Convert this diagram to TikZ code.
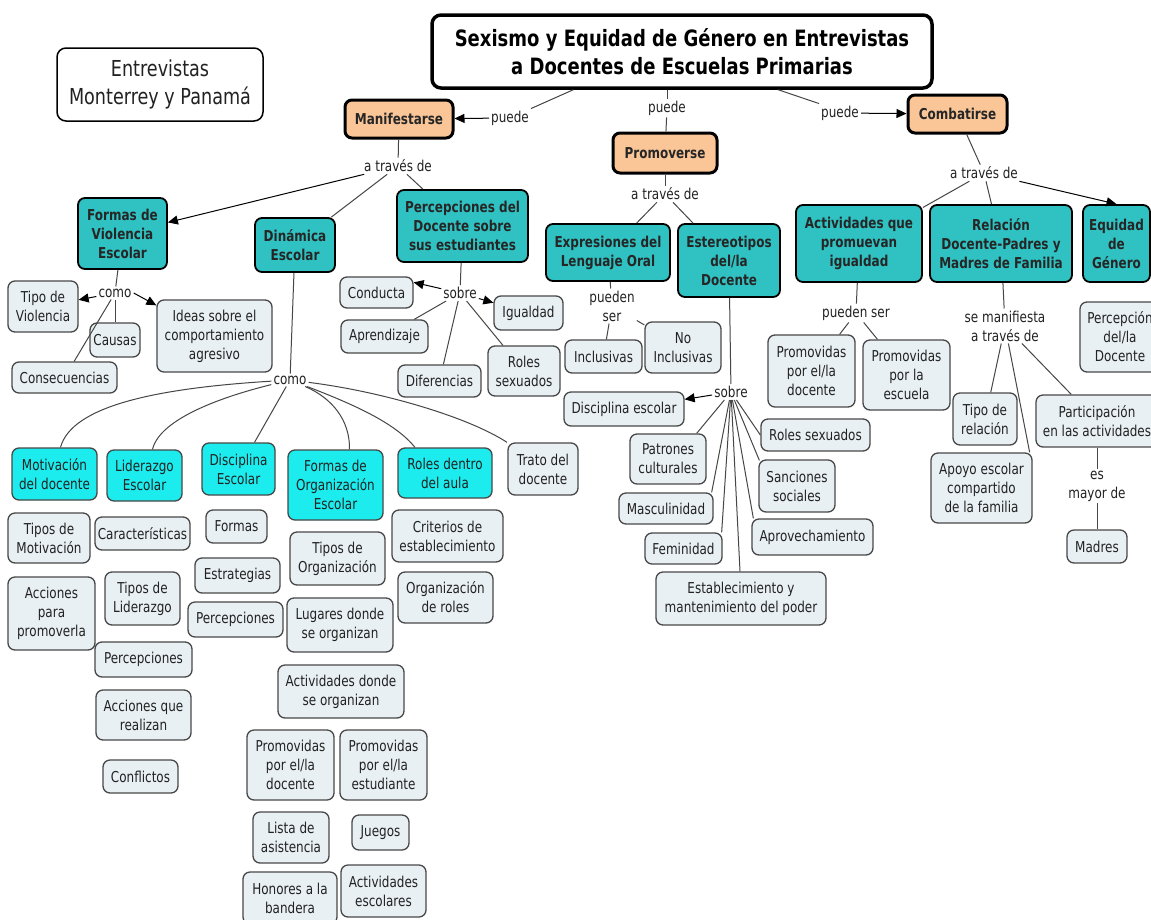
\documentclass[tikz,border=0pt]{standalone}
\usepackage{fontspec}
\setmainfont{DejaVu Sans}[FakeStretch=0.8]
\usetikzlibrary{arrows.meta}

\definecolor{orangefill}{RGB}{250,198,152}
\definecolor{tealfill}{RGB}{48,194,194}
\definecolor{cyanfill}{RGB}{28,236,238}
\definecolor{grayfill}{RGB}{233,240,243}
\definecolor{grayedge}{RGB}{72,72,72}
\definecolor{linkcol}{RGB}{70,70,70}
\definecolor{textcol}{RGB}{34,34,34}

\newcommand\fsnorm{\fontsize{15}{19}\selectfont}
\newcommand\fstitle{\fontsize{22.5}{28}\selectfont}
\newcommand\fsplace{\fontsize{22}{28}\selectfont}

% \nd{style}{x1}{y1}{x2}{y2}{name}{text}: a box filling the given rectangle
\newcommand\nd[7]{\node[#1,minimum width={(#4-#2)*1pt},minimum height={(#5-#3)*1pt}] (#6) at ({(#2+#4)/2},{(#3+#5)/2}) {#7};}

\tikzset{
  cbox/.style={rectangle, align=center, inner sep=0pt, font=\fsnorm},
  titlebox/.style={cbox, draw=black, line width=3.5pt, rounded corners=9pt, fill=white, font=\fstitle\bfseries, text=black},
  placebox/.style={cbox, draw=black, line width=1.5pt, rounded corners=9pt, fill=white, font=\fsplace, text=textcol},
  orangebox/.style={cbox, draw=black, line width=3pt, rounded corners=7pt, fill=orangefill, font=\fsnorm\bfseries, text=black!85},
  tealbox/.style={cbox, draw=black, line width=1.8pt, rounded corners=7pt, fill=tealfill, font=\fsnorm\bfseries, text=black!85},
  cyanbox/.style={cbox, draw=grayedge, line width=1.3pt, rounded corners=7pt, fill=cyanfill, text=textcol},
  graybox/.style={cbox, draw=grayedge, line width=1.3pt, rounded corners=7pt, fill=grayfill, text=textcol},
  lbl/.style={align=center, inner sep=2pt, font=\fsnorm, text=textcol},
  conn/.style={draw=linkcol, line width=1pt},
  arr/.style={conn, draw=black, -{Triangle[length=10pt,width=9pt]}}
}

\begin{document}
\begin{tikzpicture}[x=1pt,y=-1pt]
\useasboundingbox (0,0) rectangle (1151,919);
\fill[white] (0,0) rectangle (1151,919);
\clip (0,0) rectangle (1151,919);

% ---- top level
\nd{titlebox}{432}{15}{932}{88}{title}{Sexismo y Equidad de Género en Entrevistas\\a Docentes de Escuelas Primarias}
\nd{placebox}{57}{48}{263}{121}{place}{Entrevistas\\Monterrey y Panamá}
\nd{orangebox}{345}{100}{453}{138}{manif}{Manifestarse}
\nd{orangebox}{613}{133}{717}{173}{promo}{Promoverse}
\nd{orangebox}{908}{95}{1007}{133}{comba}{Combatirse}

% ---- second level
\nd{tealbox}{78}{198}{167}{269}{violen}{Formas de\\Violencia\\Escolar}
\nd{tealbox}{255}{218}{335}{272}{dinam}{Dinámica\\Escolar}
\nd{tealbox}{397}{190}{528}{262}{percep}{Percepciones del\\Docente sobre\\sus estudiantes}
\nd{tealbox}{546}{224}{670}{281}{expre}{Expresiones del\\Lenguaje Oral}
\nd{tealbox}{678}{224}{780}{297}{estereo}{Estereotipos\\del/la\\Docente}
\nd{tealbox}{796}{205}{922}{282}{activ}{Actividades que\\promuevan\\igualdad}
\nd{tealbox}{930}{205}{1072}{282}{relac}{Relación\\Docente-Padres y\\Madres de Familia}
\nd{tealbox}{1083}{205}{1150}{282}{equid}{Equidad\\de\\Género}

% ---- linking phrases
\node[lbl] (puede1) at (510,118) {puede};
\node[lbl] (puede2) at (667,108) {puede};
\node[lbl] (puede3) at (840,113) {puede};
\node[lbl] (atr1) at (398,166) {a través de};
\node[lbl] (atr2) at (665,194) {a través de};
\node[lbl] (atr3) at (984,173) {a través de};
\node[lbl] (como1) at (115,293) {como};
\node[lbl] (como2) at (290,380) {como};
\node[lbl] (sobre1) at (460,293) {sobre};
\node[lbl] (sobre2) at (731,392) {sobre};
\node[lbl] (pueden1) at (612,306) {pueden\\ser};
\node[lbl] (pueden2) at (856,313) {pueden ser};
\node[lbl] (semani) at (1005,326) {se manifiesta\\a través de};
\node[lbl] (esmay) at (1097,486) {es\\mayor de};

% ---- violencia escolar
\nd{graybox}{8}{281}{78}{332}{tipoviol}{Tipo de\\Violencia}
\nd{graybox}{90}{323}{140}{357}{causas}{Causas}
\nd{graybox}{157}{300}{272}{372}{ideas}{Ideas sobre el\\comportamiento\\agresivo}
\nd{graybox}{12}{362}{117}{393}{consec}{Consecuencias}

% ---- percepciones del docente
\nd{graybox}{340}{277}{413}{308}{conducta}{Conducta}
\nd{graybox}{341}{320}{428}{353}{aprend}{Aprendizaje}
\nd{graybox}{398}{365}{481}{397}{difer}{Diferencias}
\nd{graybox}{494}{296}{563}{330}{igual}{Igualdad}
\nd{graybox}{488}{346}{560}{396}{roles1}{Roles\\sexuados}

% ---- lenguaje oral
\nd{graybox}{565}{340}{642}{373}{inclus}{Inclusivas}
\nd{graybox}{645}{322}{721}{373}{noinclus}{No\\Inclusivas}

% ---- estereotipos
\nd{graybox}{564}{392}{684}{426}{discesc}{Disciplina escolar}
\nd{graybox}{630}{434}{706}{484}{patron}{Patrones\\culturales}
\nd{graybox}{619}{493}{713}{524}{mascu}{Masculinidad}
\nd{graybox}{645}{533}{722}{564}{femin}{Feminidad}
\nd{graybox}{656}{572}{826}{625}{establ}{Establecimiento y\\mantenimiento del poder}
\nd{graybox}{761}{419}{870}{451}{roles2}{Roles sexuados}
\nd{graybox}{759}{460}{835}{512}{sanc}{Sanciones\\sociales}
\nd{graybox}{752}{519}{873}{555}{aprov}{Aprovechamiento}

% ---- combatirse
\nd{graybox}{768}{335}{855}{407}{promdoc}{Promovidas\\por el/la\\docente}
\nd{graybox}{863}{340}{950}{410}{promesc}{Promovidas\\por la\\escuela}
\nd{graybox}{953}{393}{1017}{445}{tiporel}{Tipo de\\relación}
\nd{graybox}{931}{453}{1032}{523}{apoyo}{Apoyo escolar\\compartido\\de la familia}
\nd{graybox}{1036}{395}{1158}{447}{partic}{Participación\\en las actividades}
\nd{graybox}{1067}{530}{1127}{563}{madres}{Madres}
\nd{graybox}{1080}{302}{1160}{372}{percdoc}{Percepción\\del/la\\Docente}

% ---- dinamica escolar
\nd{cyanbox}{12}{448}{97}{500}{motiv}{Motivación\\del docente}
\nd{cyanbox}{107}{450}{182}{501}{lider}{Liderazgo\\Escolar}
\nd{cyanbox}{202}{443}{275}{495}{discip}{Disciplina\\Escolar}
\nd{cyanbox}{288}{450}{383}{520}{formorg}{Formas de\\Organización\\Escolar}
\nd{cyanbox}{398}{448}{492}{498}{rolesaula}{Roles dentro\\del aula}
\nd{graybox}{508}{443}{578}{495}{trato}{Trato del\\docente}

\nd{graybox}{8}{513}{90}{563}{tiposmot}{Tipos de\\Motivación}
\nd{graybox}{95}{517}{190}{550}{caract}{Características}
\nd{graybox}{206}{510}{267}{543}{formas}{Formas}
\nd{graybox}{8}{577}{95}{650}{acciones}{Acciones\\para\\promoverla}
\nd{graybox}{105}{572}{180}{625}{tiposlid}{Tipos de\\Liderazgo}
\nd{graybox}{195}{558}{280}{593}{estrat}{Estrategias}
\nd{graybox}{188}{602}{283}{637}{percdis}{Percepciones}
\nd{graybox}{95}{642}{192}{677}{perclid}{Percepciones}
\nd{graybox}{96}{690}{191}{740}{accreal}{Acciones que\\realizan}
\nd{graybox}{103}{760}{178}{793}{conflic}{Conflictos}

\nd{graybox}{290}{532}{385}{585}{tiposorg}{Tipos de\\Organización}
\nd{graybox}{287}{598}{393}{652}{lugares}{Lugares donde\\se organizan}
\nd{graybox}{278}{665}{404}{718}{actdonde}{Actividades donde\\se organizan}
\nd{graybox}{392}{510}{503}{562}{criter}{Criterios de\\establecimiento}
\nd{graybox}{398}{572}{493}{623}{orgrol}{Organización\\de roles}
\nd{graybox}{247}{730}{334}{800}{promdoc2}{Promovidas\\por el/la\\docente}
\nd{graybox}{340}{730}{427}{800}{promest}{Promovidas\\por el/la\\estudiante}
\nd{graybox}{253}{812}{329}{863}{lista}{Lista de\\asistencia}
\nd{graybox}{352}{815}{409}{850}{juegos}{Juegos}
\nd{graybox}{243}{872}{337}{924}{honores}{Honores a la\\bandera}
\nd{graybox}{341}{865}{426}{917}{actesc}{Actividades\\escolares}

% ==== connectors
\draw[conn] ([xshift=143pt]title.south west) -- (puede1.north east);
\draw[arr] (puede1) -- (manif);
\draw[conn] (puede2.north) -- (puede2.north |- title.south);
\draw[conn] (puede2) -- (promo);
\draw[conn] ([xshift=348pt]title.south west) -- (puede3.north west);
\draw[arr] (puede3) -- (comba);

\draw[conn] (manif) -- (atr1);
\draw[arr] (atr1) -- (violen);
\draw[conn] (atr1) -- (dinam);
\draw[conn] (atr1) -- (percep);

\draw[conn] (promo) -- (atr2);
\draw[conn] (atr2) -- (expre);
\draw[conn] (atr2) -- (estereo);

\draw[conn] (comba) -- (atr3);
\draw[conn] (atr3) -- (activ);
\draw[conn] (atr3) -- (relac);
\draw[arr] (atr3) -- (equid.north);

\draw[conn] (violen) -- (como1);
\draw[arr] (como1) -- (tipoviol);
\draw[arr] (como1.east) -- ([yshift=-6pt]ideas.north west);
\draw[conn] (como1) -- (causas);
\draw[conn] (como1) -- (consec);

\draw[conn] (percep) -- (sobre1);
\draw[arr] (sobre1) -- ([yshift=-6pt]conducta.north east);
\draw[arr] (sobre1) -- (igual);
\draw[conn] (sobre1) -- (aprend);
\draw[conn] (sobre1) -- (difer);
\draw[conn] (sobre1) -- (roles1);

\draw[conn] (expre) -- (pueden1);
\draw[conn] (pueden1) -- (inclus);
\draw[conn] (pueden1) -- (noinclus);

\draw[conn] (estereo) -- (sobre2);
\draw[arr] (sobre2) -- (discesc);
\draw[conn] (sobre2) -- ([xshift=-10pt]patron.north east);
\draw[conn] (sobre2) -- ([xshift=-2pt]mascu.north east);
\draw[conn] (sobre2) -- ([xshift=-1pt]femin.north east);
\draw[conn] (sobre2) -- ([xshift=-1pt]establ.north);
\draw[conn] (sobre2) -- ([xshift=2pt]aprov.north west);
\draw[conn] (sobre2) -- ([xshift=1pt,yshift=-1pt]sanc.north west);
\draw[conn] (sobre2) -- (roles2.west);

\draw[conn] (activ) -- (pueden2);
\draw[conn] (pueden2) -- (promdoc);
\draw[conn] (pueden2) -- (promesc);

\draw[conn] (relac) -- (semani);
\draw[conn] (semani) -- (tiporel);
\draw[conn] (semani) -- ([xshift=-3pt]apoyo.north east);
\draw[conn] (semani) -- (partic);
\draw[conn] (partic) -- (esmay);
\draw[conn] (esmay) -- (madres);

\draw[conn] (dinam) -- (como2);
\draw[conn] (como2) .. controls (160,388) and (72,405) .. ([xshift=6pt]motiv.north);
\draw[conn] (como2) .. controls (225,396) and (160,418) .. ([xshift=8pt]lider.north);
\draw[conn] (como2) -- ([xshift=16pt]discip.north);
\draw[conn] (como2) .. controls (332,398) and (350,420) .. ([xshift=14pt]formorg.north);
\draw[conn] (como2) .. controls (358,406) and (396,424) .. ([xshift=-30pt]rolesaula.north);
\draw[conn] (como2) .. controls (385,392) and (470,418) .. ([xshift=-36pt]trato.north);
\end{tikzpicture}
\end{document}
